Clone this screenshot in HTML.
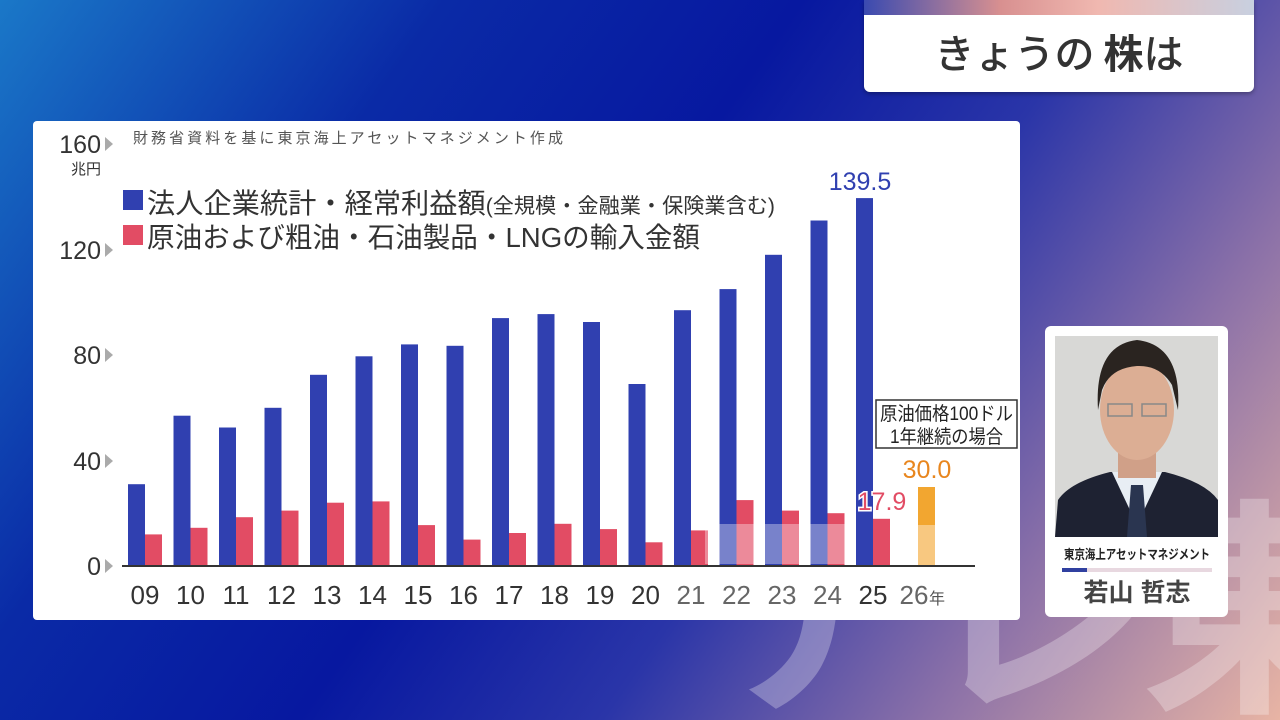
<!DOCTYPE html>
<html><head><meta charset="utf-8"><style>
html,body{margin:0;padding:0;width:1280px;height:720px;overflow:hidden;}
body{position:relative;
background:linear-gradient(125deg,#1a78c8 0%,#0a2aa6 25%,#0718a0 45%,#2a35a8 62%,#8a70a8 80%,#e8b4a4 100%);
font-family:"Liberation Sans","Noto Sans CJK JP",sans-serif;}
.wrap{position:absolute;left:0;top:0;width:1280px;height:720px;overflow:hidden;}
.wm{position:absolute;left:700px;top:470px;font-size:230px;line-height:250px;font-weight:bold;color:rgba(255,255,255,0.28);letter-spacing:-10px;font-family:"Noto Sans CJK JP",sans-serif;white-space:nowrap;}
.title{position:absolute;left:864px;top:0;width:390px;height:92px;background:#fff;border-radius:0 0 6px 6px;overflow:hidden;box-shadow:0 2px 4px rgba(0,0,0,.3);}
.title .strip{height:15px;background:linear-gradient(90deg,#3a4ab0,#d89090 35%,#f0b8b0 60%,#c8d0e0);}
.title .t{text-align:center;font-size:40px;color:#333;line-height:72px;font-family:"Noto Sans CJK JP",sans-serif;font-weight:500;}
.panel{position:absolute;left:33px;top:121px;width:987px;height:499px;background:#fff;border-radius:4px;}
.card{position:absolute;left:1045px;top:326px;width:183px;height:291px;background:#fff;border-radius:6px;}
</style></head><body><div class="wrap">
<div class="wm">テレ東</div>
<div class="title"><div class="strip"></div><div class="t">きょうの <b>株</b>は</div></div>
<div class="panel"></div>
<svg width="1280" height="720" style="position:absolute;left:0;top:0" font-family="Liberation Sans, Noto Sans CJK JP, sans-serif">
<text x="133" y="143" font-size="15" fill="#555" textLength="430">財務省資料を基に東京海上アセットマネジメント作成</text>
<g font-size="25" fill="#333" text-anchor="end">
<text x="101" y="153">160</text><text x="101" y="259">120</text><text x="101" y="364">80</text><text x="101" y="470">40</text><text x="101" y="575">0</text>
</g>
<text x="86" y="174" font-size="15" fill="#333" text-anchor="middle">兆円</text>
<g fill="#aaa">
<polygon points="105,137 113,144 105,151"/><polygon points="105,243 113,250 105,257"/><polygon points="105,348 113,355 105,362"/><polygon points="105,454 113,461 105,468"/><polygon points="105,559 113,566 105,573"/>
</g>
<rect x="123" y="190" width="20" height="20" fill="#3040b0"/>
<rect x="123" y="225" width="20" height="20" fill="#e24c64"/>
<text x="147" y="213" font-size="28" fill="#333" textLength="628" lengthAdjust="spacingAndGlyphs">法人企業統計・経常利益額<tspan font-size="21">(全規模・金融業・保険業含む)</tspan></text>
<text x="147" y="247" font-size="28" fill="#333" textLength="553" lengthAdjust="spacingAndGlyphs">原油および粗油・石油製品・LNGの輸入金額</text>
<g fill="#3040b0">
<rect x="128" y="484.2" width="17" height="81.8"/>
<rect x="173.5" y="415.7" width="17" height="150.3"/>
<rect x="219" y="427.5" width="17" height="138.5"/>
<rect x="264.5" y="407.8" width="17" height="158.2"/>
<rect x="310" y="374.8" width="17" height="191.2"/>
<rect x="355.5" y="356.3" width="17" height="209.7"/>
<rect x="401" y="344.4" width="17" height="221.6"/>
<rect x="446.5" y="345.8" width="17" height="220.2"/>
<rect x="492" y="318.1" width="17" height="247.9"/>
<rect x="537.5" y="314.1" width="17" height="251.9"/>
<rect x="583" y="322" width="17" height="244"/>
<rect x="628.5" y="384" width="17" height="182"/>
<rect x="674" y="310.2" width="17" height="255.8"/>
<rect x="719.5" y="289.1" width="17" height="276.9"/>
<rect x="765" y="254.8" width="17" height="311.2"/>
<rect x="810.5" y="220.5" width="17" height="345.5"/>
<rect x="856" y="198.1" width="17" height="367.9"/>
</g>
<g fill="#e24c64">
<rect x="145" y="534.4" width="17" height="31.6"/>
<rect x="190.5" y="527.8" width="17" height="38.2"/>
<rect x="236" y="517.2" width="17" height="48.8"/>
<rect x="281.5" y="510.6" width="17" height="55.4"/>
<rect x="327" y="502.7" width="17" height="63.3"/>
<rect x="372.5" y="501.4" width="17" height="64.6"/>
<rect x="418" y="525.1" width="17" height="40.9"/>
<rect x="463.5" y="539.6" width="17" height="26.4"/>
<rect x="509" y="533" width="17" height="33"/>
<rect x="554.5" y="523.8" width="17" height="42.2"/>
<rect x="600" y="529.1" width="17" height="36.9"/>
<rect x="645.5" y="542.3" width="17" height="23.7"/>
<rect x="691" y="530.4" width="17" height="35.6"/>
<rect x="736.5" y="500.1" width="17" height="65.9"/>
<rect x="782" y="510.6" width="17" height="55.4"/>
<rect x="827.5" y="513.2" width="17" height="52.8"/>
<rect x="873" y="518.8" width="17" height="47.2"/>
</g>
<rect x="918" y="487" width="17" height="38" fill="#f2a630"/>
<rect x="918" y="525" width="17" height="41" fill="#f8c880"/>
<rect x="705" y="524" width="150" height="40" fill="rgba(255,255,255,0.35)"/>
<line x1="122" y1="566" x2="975" y2="566" stroke="#333" stroke-width="2"/>
<g font-size="26" fill="#333" text-anchor="middle">
<text x="145" y="604">09</text><text x="190.5" y="604">10</text><text x="236" y="604">11</text><text x="281.5" y="604">12</text><text x="327" y="604">13</text><text x="372.5" y="604">14</text><text x="418" y="604">15</text><text x="463.5" y="604">16</text><text x="509" y="604">17</text><text x="554.5" y="604">18</text><text x="600" y="604">19</text><text x="645.5" y="604">20</text>
<text x="691" y="604" fill="#666">21</text><text x="736.5" y="604" fill="#666">22</text><text x="782" y="604" fill="#666">23</text><text x="827.5" y="604" fill="#666">24</text><text x="873" y="604">25</text><text x="914" y="604" fill="#666">26</text>
</g>
<text x="929" y="604" font-size="16" fill="#555">年</text>
<text x="860" y="190" font-size="25" fill="#3040b0" text-anchor="middle">139.5</text>
<text x="882" y="510" font-size="25" fill="#e24c64" text-anchor="middle" stroke="#fff" stroke-width="3" paint-order="stroke">17.9</text>
<text x="927" y="478" font-size="25" fill="#e8861e" text-anchor="middle">30.0</text>
<rect x="876" y="400" width="141" height="48" fill="#fff" stroke="#333" stroke-width="1.5"/>
<text x="880" y="420" font-size="19" fill="#222" textLength="133" lengthAdjust="spacingAndGlyphs">原油価格100ドル</text>
<text x="890" y="443" font-size="19" fill="#222" textLength="113" lengthAdjust="spacingAndGlyphs">1年継続の場合</text>
</svg>
<div class="card"></div>
<svg width="1280" height="720" style="position:absolute;left:0;top:0" font-family="Liberation Sans, Noto Sans CJK JP, sans-serif">
<defs><clipPath id="ph"><rect x="1055" y="336" width="163" height="201"/></clipPath></defs>
<g clip-path="url(#ph)">
<rect x="1055" y="336" width="163" height="201" fill="#d8d8d6"/>
<path d="M1055,537 L1058,500 Q1070,482 1110,472 L1165,472 Q1205,482 1218,500 L1218,537 Z" fill="#1e2232"/>
<path d="M1112,472 L1137,525 L1162,472 Z" fill="#e8eef4"/>
<path d="M1131,485 L1143,485 L1147,537 L1127,537 Z" fill="#2a3550"/>
<rect x="1118" y="440" width="38" height="38" fill="#d0a088"/>
<ellipse cx="1137" cy="410" rx="37" ry="50" fill="#dcae94"/>
<path d="M1098,410 Q1094,345 1137,340 Q1182,345 1178,410 L1172,385 Q1160,365 1137,366 Q1110,368 1102,390 Z" fill="#2a2420"/>
<rect x="1108" y="404" width="24" height="12" fill="none" stroke="#888" stroke-width="1.5"/>
<rect x="1142" y="404" width="24" height="12" fill="none" stroke="#888" stroke-width="1.5"/>
</g>
<text x="1064" y="559" font-size="13" fill="#222" font-weight="bold" textLength="146" lengthAdjust="spacingAndGlyphs">東京海上アセットマネジメント</text>
<rect x="1062" y="568" width="150" height="4" fill="#e8d8e0"/>
<rect x="1062" y="568" width="25" height="4" fill="#3040a0"/>
<text x="1137" y="601" font-size="25" fill="#444" text-anchor="middle" font-weight="bold">若山 哲志</text>
</svg>
</div></body></html>
